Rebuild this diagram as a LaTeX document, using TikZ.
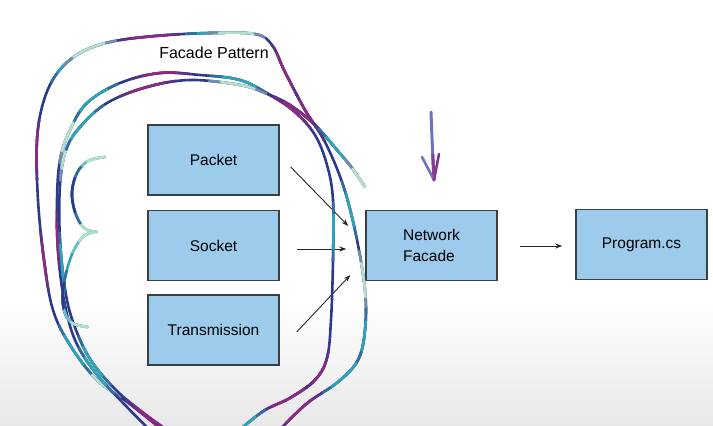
\documentclass[tikz,border=0pt]{standalone}
\usepackage{fontspec}
\setmainfont{Liberation Sans}
\usetikzlibrary{arrows.meta}
\definecolor{boxfill}{HTML}{9CCBEC}
\definecolor{boxline}{HTML}{3A3F44}
\definecolor{gPur}{HTML}{8A2A80}
\definecolor{gBlu}{HTML}{2D3A8A}
\definecolor{gTea}{HTML}{2FA3B8}
\definecolor{gMin}{HTML}{B2E0CC}
\definecolor{gLav}{HTML}{6E72C0}
\newcommand\inkcurve[3]{%
  \draw[ink, draw=#2, #1];
  \foreach \px/\py/\pc in {#3} {
    \colorlet{inkmix}{\pc!50!#2}
    \begin{scope}
      \clip (\px,\py) circle (30pt);
      \draw[ink, draw=inkmix, #1];
    \end{scope}
    \begin{scope}
      \clip (\px,\py) circle (18pt);
      \draw[ink, draw=\pc, #1];
    \end{scope}
  }%
}
\tikzset{
  ink/.style={line width=2.6pt, line cap=round, line join=round},
  box/.style={draw=boxline, line width=1.4pt, fill=boxfill,
    minimum width=131pt, minimum height=70pt, inner sep=0pt,
    font=\fontsize{15.5}{21}\selectfont},
  arr/.style={draw=black!85, line width=0.9pt, -{Stealth[length=7pt,width=5pt]}},
  loopO/.style={insert path={plot[smooth, tension=0.6] coordinates {
    (175,440) (130,404) (97,380) (70,345) (53,310) (44,260) (38,200) (37,140)
    (44,100) (58,72) (80,53) (110,42) (155,36) (210,33) (255,34) (272,45)
    (285,72) (305,110) (325,142) (343,185) (356,235) (365,290) (365,330)
    (358,360) (338,382) (305,405) (270,440)}}},
  loopU/.style={insert path={plot[smooth, tension=0.6] coordinates {
    (160,440) (125,405) (95,372) (75,340) (64,300) (58,250) (57,200) (60,160)
    (70,130) (87,103) (120,83) (160,73) (200,75) (240,80) (270,95) (295,112)
    (315,135) (327,165) (333,200) (333,260) (331,320) (327,358) (315,380)
    (290,398) (262,412) (228,440)}}},
  loopL/.style={insert path={plot[smooth, tension=0.6] coordinates {
    (182,440) (150,418) (118,392) (92,362) (76,330) (66,295) (60,240) (60,185)
    (66,150) (80,127) (107,103) (147,87) (190,80) (240,85) (265,93) (290,105)
    (315,125) (337,150) (352,168) (365,187)}}},
  braceA/.style={insert path={plot[smooth, tension=0.6] coordinates {
    (105,157) (88,161) (77,173) (72,192) (75,212) (84,228) (97,232)}}},
  braceB/.style={insert path={plot[smooth, tension=0.6] coordinates {
    (94,232) (84,236) (75,248) (68,266) (63,290) (64,310) (72,323) (88,327)}}}
}
\begin{document}
\begin{tikzpicture}[x=1pt,y=-1pt]
\useasboundingbox (0,0) rectangle (713,426);
\clip (0,0) rectangle (713,426);
\shade[top color=white,bottom color=black!9] (0,300) rectangle (713,426);

% boxes
\node[box] (packet) at (213.5,160) {Packet};
\node[box] (socket) at (213.5,245.5) {Socket};
\node[box] (trans) at (213.5,330) {Transmission};
\node[box, align=left] (netf) at (431.5,245.5) {Network\\Facade};
\node[box] (prog) at (641.5,244.5) {Program.cs};

% title
\node[font=\fontsize{16}{18}\selectfont, anchor=base, inner sep=0pt] (title) at (214,58) {Facade Pattern};

% arrows
\draw[arr] ([shift={(11,7)}]packet.east) -- ([shift={(-17,-19.5)}]netf.west);
\draw[arr] ([shift={(17,3.5)}]socket.east) -- ([shift={(-19,3.5)}]netf.west);
\draw[arr] ([shift={(17,2)}]trans.east) -- ([shift={(-15,29.5)}]netf.west);
\draw[arr] ([shift={(22,0.5)}]netf.east) -- ([shift={(-13,1.5)}]prog.west);

% hand-drawn loops
\inkcurve{loopO}{gBlu}{38/150/gPur, 44/262/gPur, 70/60/gTea, 88/48/gMin,
  150/37/gPur, 215/33/gTea, 236/33/gMin, 287/70/gPur, 310/115/gPur,
  350/210/gTea, 364/280/gMin, 362/338/gTea, 345/376/gTea, 298/410/gPur,
  97/380/gMin, 74/350/gTea, 150/420/gPur}
\inkcurve{loopU}{gBlu}{68/135/gMin, 92/98/gTea, 160/73/gPur, 240/80/gTea,
  290/108/gPur, 333/232/gTea, 318/378/gPur, 288/400/gPur, 240/425/gTea,
  95/372/gTea, 58/240/gPur}
\inkcurve{loopL}{gBlu}{66/152/gMin, 82/125/gTea, 147/87/gPur, 238/85/gMin,
  298/112/gPur, 338/150/gTea, 362/183/gMin, 92/362/gTea, 150/418/gPur,
  62/262/gTea}
\inkcurve{braceA}{gTea}{97/232/gMin, 104/157/gMin, 72/195/gBlu}
\inkcurve{braceB}{gTea}{94/232/gMin, 64/300/gBlu, 88/327/gMin}

% hand-drawn down arrow
\coordinate (dtop) at (431,112);
\coordinate (dtip) at (434,180);
\draw[ink, draw=gLav, line width=3pt] (dtop) .. controls (432,140) and (433,160) .. (dtip);
\begin{scope}
  \clip (434,180) circle (26pt);
  \draw[ink, draw=gPur!70!gLav, line width=3pt] (dtop) .. controls (432,140) and (433,160) .. (dtip);
\end{scope}
\draw[ink, draw=gLav] (422,157) -- (dtip);
\draw[ink, draw=gPur!80!gLav] (439,154) -- (dtip);
\end{tikzpicture}
\end{document}
